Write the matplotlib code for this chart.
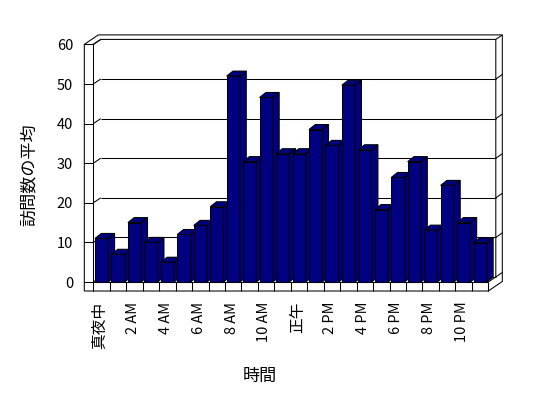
import numpy as np
import matplotlib
matplotlib.use('Agg')
import matplotlib.pyplot as plt
from matplotlib.patches import Polygon

plt.rcParams['font.family'] = ['Noto Sans CJK JP', 'DejaVu Sans']

# average visits per hour
hours = np.arange(24)
visits = [11, 7, 15, 10, 5, 12, 14.3, 19, 52, 30.4, 46.6, 32.4,
          32.4, 38.5, 34.5, 49.7, 33.4, 18.3, 26.4, 30.4, 13.1, 24.4, 15, 9.9]
tick_hours = [0, 2, 4, 6, 8, 10, 12, 14, 16, 18, 20, 22]
tick_names = ['真夜中', '2 AM', '4 AM', '6 AM', '8 AM', '10 AM',
              '正午', '2 PM', '4 PM', '6 PM', '8 PM', '10 PM']
yticks = [0, 10, 20, 30, 40, 50, 60]

W, H = 548, 398
fig = plt.figure(figsize=(W/100, H/100), dpi=100)
fig.patch.set_facecolor('white')

# front plane of the fake 3d box, in pixels
x0, x1, yb, yt = 93.3, 488.3, 282, 44.4
ax = fig.add_axes([x0/W, (H-yb)/H, (x1-x0)/W, (yb-yt)/H])
ax.set_xlim(0, 24)
ax.set_ylim(0, 60)
ax.patch.set_visible(False)
for s in ax.spines.values():
    s.set_visible(False)

sx = (x1-x0)/24.
sy = (yb-yt)/60.
LW = 9/sx          # left wall thickness
FT = 9/sy          # floor thickness
d1x, d1y = 7.5/sx, 5/sy     # back wall inner face
d2x, d2y = 14/sx, 9.5/sy    # back wall outer face
bdx, bdy = 6.3/sx, 5/sy     # bar depth
boff, bw = 1.7/sx, 13.3/sx
lw = 0.75
k = dict(color='k', lw=lw, clip_on=False, zorder=1, solid_capstyle='butt')

outline = [(-LW, -FT), (-LW, 60), (-LW+d2x, 60+d2y), (24+d2x, 60+d2y),
           (24+d2x, -FT+d2y), (24, -FT)]
ax.add_patch(Polygon(outline, closed=True, fc='white', ec='k', lw=lw,
                     clip_on=False, zorder=0.5))

# walls and floor edges
ax.plot([0, 0], [-FT, 60], **k)
ax.plot([-LW, 0], [60, 60], **k)
ax.plot([0, d1x, 24+d1x, 24+d1x], [60, 60+d1y, 60+d1y, d1y], **k)
ax.plot([24+d1x, 24+d2x], [60+d1y, 60+d2y], **k)
ax.plot([0, 24], [0, 0], **k)
ax.plot([24, 24], [-FT, 0], **k)
ax.plot([24, 24+d2x], [0, d2y], **k)
ax.plot([d1x, 24+d1x], [d1y, d1y], **k)
for i in range(25):
    ax.plot([i, i], [-FT, 0], **k)

# gridlines
for v in yticks:
    ax.plot([-LW, 0], [v, v], **k)
    ax.plot([0, d1x], [v, v+d1y], **k)
    if 0 < v < 60:
        ax.plot([d1x, 24+d1x], [v+d1y, v+d1y], **k)
        ax.plot([24+d1x, 24+d2x], [v+d1y, v+d2y], **k)

# bars
navy = '#000080'
bars = ax.bar(hours+boff, visits, width=bw, align='edge', color=navy,
              edgecolor='k', linewidth=lw, clip_on=False)
for i, (b, v) in enumerate(zip(bars, visits)):
    z = 3 + i*0.01
    b.set_zorder(z)
    xl = hours[i]+boff
    xr = xl+bw
    side = [(xr, 0), (xr, v), (xr+bdx, v+bdy), (xr+bdx, bdy)]
    top = [(xl, v), (xr, v), (xr+bdx, v+bdy), (xl+bdx, v+bdy)]
    for pts in (side, top):
        ax.add_patch(Polygon(pts, closed=True, fc=navy, ec='k', lw=lw,
                             clip_on=False, zorder=z+0.005))

ax.set_yticks(yticks)
ax.set_yticklabels([str(v) for v in yticks], fontsize=10.5)
ax.set_xticks(np.array(tick_hours)+0.4)
ax.set_xticklabels(tick_names, rotation=90, fontsize=10.5)
for t in ax.get_xticklabels():
    if t.get_text() in ('真夜中', '正午'):
        t.set_fontsize(11.3)
ax.tick_params(axis='y', length=0, pad=14.4)
ax.tick_params(axis='x', length=0, pad=14.2)

fig.text(260/W, 1-375.5/H, '時間', fontsize=12.3, ha='center', va='center')
fig.text(29/W, 1-175/H, '訪問数の平均', fontsize=12.3, rotation=90,
         ha='center', va='center')

fig.savefig('out.png', dpi=100)
